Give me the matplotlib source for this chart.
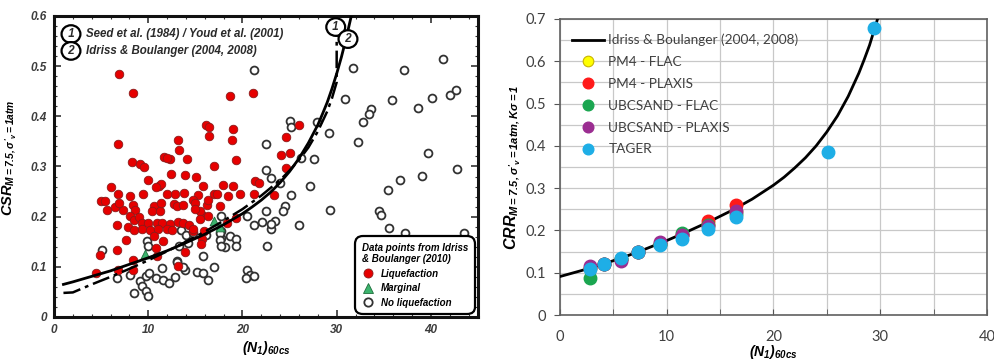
import matplotlib
matplotlib.use("Agg")
import matplotlib.pyplot as plt
from matplotlib.lines import Line2D
from matplotlib.ticker import MultipleLocator

plt.rcParams['font.family'] = ['Liberation Sans', 'DejaVu Sans']
plt.rcParams['mathtext.fontset'] = 'custom'
plt.rcParams['mathtext.rm'] = 'Liberation Sans:bold:italic'
plt.rcParams['mathtext.it'] = 'Liberation Sans:bold:italic'
plt.rcParams['mathtext.bf'] = 'Liberation Sans:bold:italic'

# ---------------- left panel: case history data ----------------
# liquefaction (red filled)
liq_n = [6.9, 8.4, 6.8, 13.2, 13.3, 8.3, 9.1, 9.6, 11.7, 12.3, 12.0, 14.1, 12.4, 13.9, 15.1,
         10.0, 6.1, 11.1, 11.4, 16.1, 16.5, 16.4, 17.0, 18.7, 19.0, 18.9, 19.3, 21.1, 26.0,
         24.6, 25.0, 24.1, 24.6, 17.9, 19.0, 21.3, 21.8, 17.0, 17.3, 18.5, 19.7, 21.2, 23.4,
         16.2, 17.6, 15.7, 16.3, 18.4, 19.3, 15.9, 15.7, 15.6, 15.8, 15.3, 10.8, 12.8, 14.7,
         15.5, 16.3, 15.5, 14.7, 6.8, 8.1, 9.4, 12.0, 13.8, 5.0, 5.4, 5.6, 6.5, 7.3, 6.9,
         8.4, 8.6, 10.6, 10.4, 11.3, 11.4, 12.7, 13.0, 13.7, 15.0, 15.0, 8.1, 8.5, 9.0, 9.3,
         10.0, 10.9, 11.5, 12.3, 13.2, 13.7, 14.3, 6.7, 7.9, 8.5, 9.3, 10.2, 11.0, 12.0, 12.5,
         14.8, 10.6, 11.6, 7.6, 6.7, 10.8, 13.9, 4.9, 8.4, 10.9, 6.8, 8.4, 13.2, 4.5]
liq_csr = [0.484, 0.447, 0.345, 0.353, 0.333, 0.309, 0.304, 0.299, 0.319, 0.314, 0.317, 0.315,
           0.286, 0.283, 0.279, 0.273, 0.259, 0.261, 0.265, 0.382, 0.378, 0.360, 0.300, 0.440,
           0.374, 0.352, 0.312, 0.446, 0.383, 0.359, 0.327, 0.322, 0.297, 0.264, 0.262, 0.272,
           0.267, 0.246, 0.246, 0.241, 0.246, 0.246, 0.244, 0.224, 0.221, 0.204, 0.202, 0.187,
           0.197, 0.171, 0.155, 0.146, 0.261, 0.244, 0.259, 0.246, 0.234, 0.211, 0.234, 0.195,
           0.171, 0.246, 0.241, 0.246, 0.246, 0.247, 0.231, 0.231, 0.214, 0.219, 0.213, 0.227,
           0.224, 0.213, 0.221, 0.211, 0.211, 0.227, 0.226, 0.221, 0.224, 0.227, 0.216, 0.201,
           0.194, 0.199, 0.187, 0.187, 0.187, 0.187, 0.186, 0.189, 0.187, 0.184, 0.184, 0.179,
           0.174, 0.175, 0.174, 0.175, 0.175, 0.174, 0.175, 0.161, 0.151, 0.153, 0.133, 0.137,
           0.129, 0.124, 0.114, 0.121, 0.094, 0.094, 0.102, 0.087]

# marginal (green triangles)
marg_n = [9.7, 17.0, 17.6]
marg_csr = [0.126, 0.192, 0.180]

# no liquefaction (open circles)
noliq_n = [21.2, 31.7, 37.1, 41.3, 30.9, 35.9, 38.6, 40.1, 42.0, 42.7, 33.6, 33.4, 32.8, 27.9,
           25.0, 25.2, 29.2, 32.3, 22.5, 27.6, 26.2, 39.7, 42.8, 22.5, 23.0, 24.0, 27.2, 36.7,
           39.1, 25.1, 22.5, 24.5, 24.3, 21.2, 22.1, 23.0, 23.5, 23.0, 26.0, 22.6, 29.3, 35.4,
           34.5, 34.7, 35.6, 37.3, 43.5, 20.5, 17.7, 17.7, 17.7, 18.7, 19.3, 19.3, 18.1, 15.8,
           17.0, 15.2, 15.8, 16.3, 20.5, 20.8, 21.2, 20.4, 5.1, 6.7, 8.1, 8.5, 9.1, 9.3, 9.8,
           10.0, 9.8, 10.1, 10.8, 11.5, 11.6, 12.2, 12.8, 13.0, 13.9, 9.9, 10.0, 13.3, 14.2,
           13.5, 14.0, 16.1, 17.6, 17.6, 17.7, 13.0, 13.7, 14.7]
noliq_csr = [0.492, 0.496, 0.493, 0.514, 0.434, 0.432, 0.417, 0.437, 0.442, 0.453, 0.414, 0.404,
             0.389, 0.389, 0.391, 0.379, 0.367, 0.349, 0.344, 0.315, 0.317, 0.326, 0.295, 0.294,
             0.277, 0.267, 0.262, 0.274, 0.281, 0.243, 0.211, 0.222, 0.211, 0.183, 0.189, 0.176,
             0.191, 0.185, 0.183, 0.141, 0.214, 0.254, 0.211, 0.204, 0.177, 0.167, 0.167, 0.202,
             0.202, 0.171, 0.157, 0.161, 0.155, 0.142, 0.139, 0.121, 0.099, 0.089, 0.088, 0.074,
             0.094, 0.084, 0.082, 0.077, 0.134, 0.077, 0.084, 0.047, 0.071, 0.061, 0.051, 0.041,
             0.081, 0.087, 0.077, 0.097, 0.074, 0.067, 0.079, 0.111, 0.094, 0.151, 0.141, 0.141,
             0.147, 0.174, 0.164, 0.164, 0.167, 0.154, 0.141, 0.109, 0.099, 0.167]

# triggering curves
youd_n = [1, 2, 4, 6, 8, 10, 12, 14, 16, 18, 20, 22, 24, 25, 26, 27, 28, 29, 29.5, 30, 30]
youd_csr = [0.048, 0.049, 0.065, 0.080, 0.096, 0.113, 0.131, 0.150, 0.170, 0.192, 0.215, 0.242,
            0.273, 0.292, 0.313, 0.338, 0.370, 0.410, 0.436, 0.468, 0.60]
ib_n = [1, 2, 4, 6, 8, 10, 12, 14, 16, 18, 20, 21, 22, 23, 24, 25, 26, 27, 28, 28.5, 29, 29.5,
        30, 30.5, 31, 31.55]
ib_csr = [0.065, 0.070, 0.081, 0.092, 0.105, 0.118, 0.132, 0.148, 0.165, 0.184, 0.206, 0.219,
          0.233, 0.249, 0.268, 0.290, 0.316, 0.347, 0.383, 0.405, 0.428, 0.455, 0.485, 0.518,
          0.555, 0.60]

# ---------------- right panel: numerical simulations ----------------
curve_n = [0, 2, 4, 6, 8, 10, 12, 14, 16, 18, 20, 21, 22, 23, 24, 25, 26, 27, 28, 28.5, 29, 29.5,
           29.75]
curve_crr = [0.091, 0.105, 0.120, 0.137, 0.156, 0.176, 0.198, 0.221, 0.246, 0.274, 0.307, 0.326,
             0.348, 0.372, 0.400, 0.433, 0.471, 0.517, 0.572, 0.604, 0.638, 0.679, 0.700]

sim_n = [2.8, 4.1, 5.7, 7.3, 9.4, 11.4, 13.9, 16.5]
pm4_flac = [0.110, 0.120, 0.133, 0.150, 0.168, 0.190, 0.215, 0.245]
pm4_plaxis = [0.110, 0.120, 0.133, 0.150, 0.168, 0.190, 0.222, 0.260]
ubc_flac = [0.087, 0.120, 0.132, 0.150, 0.168, 0.195, 0.213, 0.240]
ubc_plaxis = [0.116, 0.120, 0.128, 0.150, 0.172, 0.190, 0.210, 0.245]
tager_n = [2.8, 4.1, 5.7, 7.3, 9.4, 11.4, 13.9, 16.5, 25.1, 29.4]
tager = [0.109, 0.120, 0.135, 0.150, 0.165, 0.180, 0.204, 0.231, 0.385, 0.678]

fig = plt.figure(figsize=(9.95, 3.61), dpi=100)

# ======== left ========
ax1 = fig.add_axes([0.0543, 0.1219, 0.4261, 0.8338])
ax1.scatter(noliq_n, noliq_csr, s=32, facecolors='white', edgecolors='#333333', linewidths=1.3, zorder=2)
ax1.scatter(liq_n, liq_csr, s=38, facecolors='#e60000', edgecolors='#8b1a1a', linewidths=0.6, zorder=3)
ax1.scatter(marg_n, marg_csr, s=40, marker='^', facecolors='#3cb46e', edgecolors='#1e6e3c', linewidths=0.6, zorder=3)
ax1.plot(youd_n, youd_csr, color='black', lw=1.8, linestyle=(0, (7, 2, 1.5, 2)), zorder=4)
ax1.plot(ib_n, ib_csr, color='black', lw=2.0, zorder=4)

ax1.set_xlim(0, 45)
ax1.set_ylim(0, 0.6)
tick_kw = dict(fontsize=8.5, fontweight='bold', fontstyle='italic', color='#3c3c3c')
ax1.set_xticks([0, 10, 20, 30, 40], ['0', '10', '20', '30', '40'], **tick_kw)
ax1.set_yticks([0, 0.1, 0.2, 0.3, 0.4, 0.5, 0.6], ['0', '0.1', '0.2', '0.3', '0.4', '0.5', '0.6'], **tick_kw)
ax1.xaxis.set_minor_locator(MultipleLocator(2))
ax1.yaxis.set_minor_locator(MultipleLocator(0.02))
ax1.tick_params(which='both', direction='in', top=True, right=True, color='#333333')
ax1.tick_params(which='major', length=5, width=1.2, pad=5)
ax1.tick_params(which='minor', length=2.5, width=0.8)
for sp in ax1.spines.values():
    sp.set_linewidth(2.2)
    sp.set_color('#111111')
ax1.set_xlabel(r"$(N_1)_{60cs}$", fontsize=10, labelpad=2)
ax1.set_ylabel(r"$CSR_{M=7.5,\sigma'_v=1atm}$", fontsize=10.5, labelpad=5)
ax1.yaxis.set_label_coords(-0.085, 0.53)

# curve identifiers
circ = dict(boxstyle='ellipse,pad=0.02', fc='white', ec='black', lw=1.6)
note_kw = dict(fontsize=8.3, fontweight='bold', fontstyle='italic', color='#2a2a2a', va='center')
ax1.text(0.04, 0.94, ' 1 ', transform=ax1.transAxes, ha='center', bbox=circ, zorder=6, **note_kw)
ax1.text(0.075, 0.94, 'Seed et al. (1984) / Youd et al. (2001)', transform=ax1.transAxes, **note_kw)
ax1.text(0.04, 0.884, ' 2 ', transform=ax1.transAxes, ha='center', bbox=circ, zorder=6, **note_kw)
ax1.text(0.075, 0.884, 'Idriss & Boulanger (2004, 2008)', transform=ax1.transAxes, **note_kw)
ax1.text(29.9, 0.578, ' 1 ', ha='center', bbox=circ, zorder=6, **note_kw)
ax1.text(31.2, 0.554, ' 2 ', ha='center', bbox=circ, zorder=6, **note_kw)

handles = [
    Line2D([], [], marker='o', ls='', ms=6.5, mfc='#e60000', mec='#8b1a1a', mew=0.6),
    Line2D([], [], marker='^', ls='', ms=6.5, mfc='#3cb46e', mec='#1e6e3c', mew=0.6),
    Line2D([], [], marker='o', ls='', ms=6, mfc='white', mec='#333333', mew=1.3),
]
leg1 = ax1.legend(handles, ['Liquefaction', 'Marginal', 'No liquefaction'],
                  title='Data points from Idriss\n& Boulanger (2010)',
                  title_fontproperties=dict(weight='bold', style='italic', size=7),
                  prop=dict(weight='bold', style='italic', size=7),
                  loc='lower right', bbox_to_anchor=(0.988, 0.015), borderaxespad=0,
                  alignment='left', handletextpad=0.8, labelspacing=0.45, handlelength=1.2,
                  borderpad=0.5, fancybox=True, edgecolor='black', framealpha=1)
leg1.get_frame().set_linewidth(1.6)
leg1.get_frame().set_boxstyle('round,pad=0.2,rounding_size=0.8')
leg1.set_zorder(7)

# ======== right ========
rfont = 'Lato'
ax2 = fig.add_axes([0.5628, 0.1274, 0.4291, 0.82])
ax2.plot(curve_n, curve_crr, color='black', lw=2, label='Idriss & Boulanger (2004, 2008)', zorder=3)
ax2.plot(sim_n, pm4_flac, 'o', ms=9, color='#ffff00', mec='#c8b400', mew=0.8, label='PM4 - FLAC', zorder=4)
ax2.plot(sim_n, pm4_plaxis, 'o', ms=9, color='#ff1a1a', mec='#ff1a1a', label='PM4 - PLAXIS', zorder=4)
ax2.plot(sim_n, ubc_flac, 'o', ms=9, color='#1aa650', mec='#1aa650', label='UBCSAND - FLAC', zorder=4)
ax2.plot(sim_n, ubc_plaxis, 'o', ms=9, color='#9b2d91', mec='#9b2d91', label='UBCSAND - PLAXIS', zorder=4)
ax2.plot(tager_n, tager, 'o', ms=9, color='#1eaee6', mec='#1eaee6', label='TAGER', zorder=5)

ax2.set_xlim(0, 40)
ax2.set_ylim(0, 0.7)
rtick = dict(fontsize=10.5, family=rfont, color='#404040')
ax2.set_xticks([0, 10, 20, 30, 40], ['0', '10', '20', '30', '40'], **rtick)
ax2.set_yticks([0, 0.1, 0.2, 0.3, 0.4, 0.5, 0.6, 0.7],
               ['0', '0.1', '0.2', '0.3', '0.4', '0.5', '0.6', '0.7'], **rtick)
ax2.xaxis.set_minor_locator(MultipleLocator(5))
ax2.yaxis.set_minor_locator(MultipleLocator(0.05))
ax2.grid(which='both', color='#c8c8c8', lw=0.9)
ax2.set_axisbelow(True)
ax2.tick_params(axis='x', which='both', direction='in', length=4, color='#555555', pad=11)
ax2.tick_params(axis='y', which='major', direction='out', length=4, color='#555555', pad=6)
ax2.tick_params(axis='y', which='minor', length=0)
for sp in ax2.spines.values():
    sp.set_linewidth(1.2)
    sp.set_color('#606060')
ax2.set_xlabel(r"$(N_1)_{60cs}$", fontsize=10, labelpad=-1)
ax2.set_ylabel(r"$CRR_{M=7.5,\sigma'_v=1atm,K\sigma=1}$", fontsize=11.5, labelpad=2)

leg2 = ax2.legend(loc='upper left', bbox_to_anchor=(0.027, 0.95), frameon=False,
                  prop=dict(family=rfont, size=9.8), handlelength=2.4, handletextpad=0.3,
                  labelspacing=0.72, markerscale=0.85, borderaxespad=0, borderpad=0)
for t in leg2.get_texts():
    t.set_color('#404040')

fig.savefig('out.png', dpi=100)
